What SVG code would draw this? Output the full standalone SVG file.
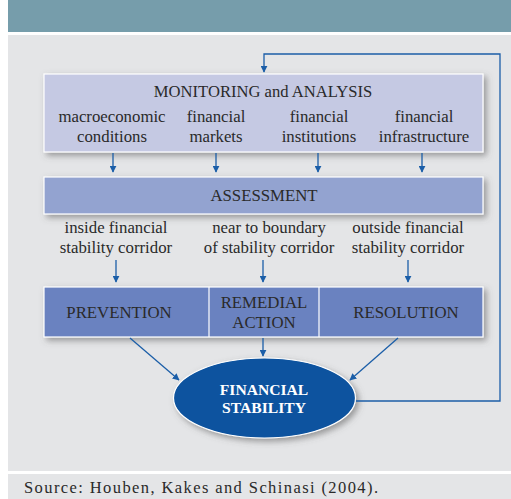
<svg xmlns="http://www.w3.org/2000/svg" width="511" height="499" viewBox="0 0 511 499">
<style>
.t{font-family:"Liberation Serif","Times New Roman",serif;fill:#2a2a2a;text-anchor:middle}
.lbl{font-size:16.8px}
.box{stroke:#ffffff;stroke-width:1.2}
.con{stroke:#1b5ea8;stroke-width:1.3;fill:none}
.wb{font-family:"Liberation Serif","Times New Roman",serif;font-weight:bold;font-size:15.6px;fill:#ffffff;text-anchor:middle}
</style>
<defs>
<filter id="sh" x="-10%" y="-30%" width="125%" height="170%">
<feDropShadow dx="3" dy="3" stdDeviation="3" flood-color="#555" flood-opacity="0.55"/>
</filter>
<marker id="ah" viewBox="0 0 10 10" refX="9" refY="5" markerWidth="7" markerHeight="7" markerUnits="userSpaceOnUse" orient="auto">
<path d="M0,0 L10,5 L0,10 z" fill="#1b5ea8"/>
</marker>
</defs>
<rect x="0" y="0" width="511" height="499" fill="#ffffff"/>
<rect x="8" y="0" width="503" height="32" fill="#769dab"/>
<rect x="8" y="35" width="503" height="436" fill="#e4e5e7"/>
<rect x="8" y="474" width="503" height="25" fill="#e4e5e7"/>

<g id="monitoring">
<rect class="box" x="44" y="74" width="439" height="78" fill="#c5c9e3" filter="url(#sh)"/>
<text class="t" x="263" y="97" font-size="16.6">MONITORING and ANALYSIS</text>
<text class="t lbl" x="112" y="122">macroeconomic</text>
<text class="t lbl" x="112" y="142">conditions</text>
<text class="t lbl" x="216" y="122">financial</text>
<text class="t lbl" x="216" y="142">markets</text>
<text class="t lbl" x="319" y="122">financial</text>
<text class="t lbl" x="319" y="142">institutions</text>
<text class="t lbl" x="424" y="122">financial</text>
<text class="t lbl" x="424" y="142">infrastructure</text>
</g>

<g id="assessment">
<rect class="box" x="44" y="177" width="439" height="37" fill="#93a3d0" filter="url(#sh)"/>
<text class="t" x="264" y="201" font-size="16.8">ASSESSMENT</text>
</g>

<g id="labels">
<text class="t lbl" x="116" y="233">inside financial</text>
<text class="t lbl" x="116" y="253">stability corridor</text>
<text class="t lbl" x="269" y="233">near to boundary</text>
<text class="t lbl" x="269" y="253">of stability corridor</text>
<text class="t lbl" x="408" y="233">outside financial</text>
<text class="t lbl" x="408" y="253">stability corridor</text>
</g>

<g id="actions">
<rect class="box" x="44" y="287" width="439" height="50" fill="#6a82c0" filter="url(#sh)"/>
<line x1="209" y1="287" x2="209" y2="337" stroke="#ffffff" stroke-width="1.2"/>
<line x1="319" y1="287" x2="319" y2="337" stroke="#ffffff" stroke-width="1.2"/>
</g>
<g id="prevention"><text class="t" x="119" y="318" font-size="16.8">PREVENTION</text></g>
<g id="remedial"><text class="t" x="264" y="308" font-size="16.8">REMEDIAL</text><text class="t" x="264" y="328" font-size="16.8">ACTION</text></g>
<g id="resolution"><text class="t" x="406" y="318" font-size="16.8">RESOLUTION</text></g>

<g id="stability">
<ellipse cx="264.5" cy="398" rx="91" ry="40" fill="#0a529f" stroke="#ffffff" stroke-width="1.2" filter="url(#sh)"/>
<text class="wb" x="264" y="395">FINANCIAL</text>
<text class="wb" x="264" y="413">STABILITY</text>
</g>

<g id="connectors">
<line class="con" x1="113" y1="153" x2="113" y2="172" marker-end="url(#ah)"/>
<line class="con" x1="216" y1="153" x2="216" y2="172" marker-end="url(#ah)"/>
<line class="con" x1="318" y1="153" x2="318" y2="172" marker-end="url(#ah)"/>
<line class="con" x1="422" y1="153" x2="422" y2="172" marker-end="url(#ah)"/>
<line class="con" x1="116" y1="260" x2="116" y2="282" marker-end="url(#ah)"/>
<line class="con" x1="263" y1="260" x2="263" y2="282" marker-end="url(#ah)"/>
<line class="con" x1="408" y1="260" x2="408" y2="282" marker-end="url(#ah)"/>
<line class="con" x1="130" y1="338" x2="179" y2="380" marker-end="url(#ah)"/>
<line class="con" x1="263" y1="338" x2="263" y2="356" marker-end="url(#ah)"/>
<line class="con" x1="398" y1="338" x2="350" y2="380" marker-end="url(#ah)"/>
<path class="con" d="M356,401 H500 V54 H264 V72" marker-end="url(#ah)"/>
</g>

<text x="24" y="493" font-family="'Liberation Serif','Times New Roman',serif" font-size="16.5" fill="#2a2a2a" textLength="354" lengthAdjust="spacing">Source: Houben, Kakes and Schinasi (2004).</text>
</svg>
